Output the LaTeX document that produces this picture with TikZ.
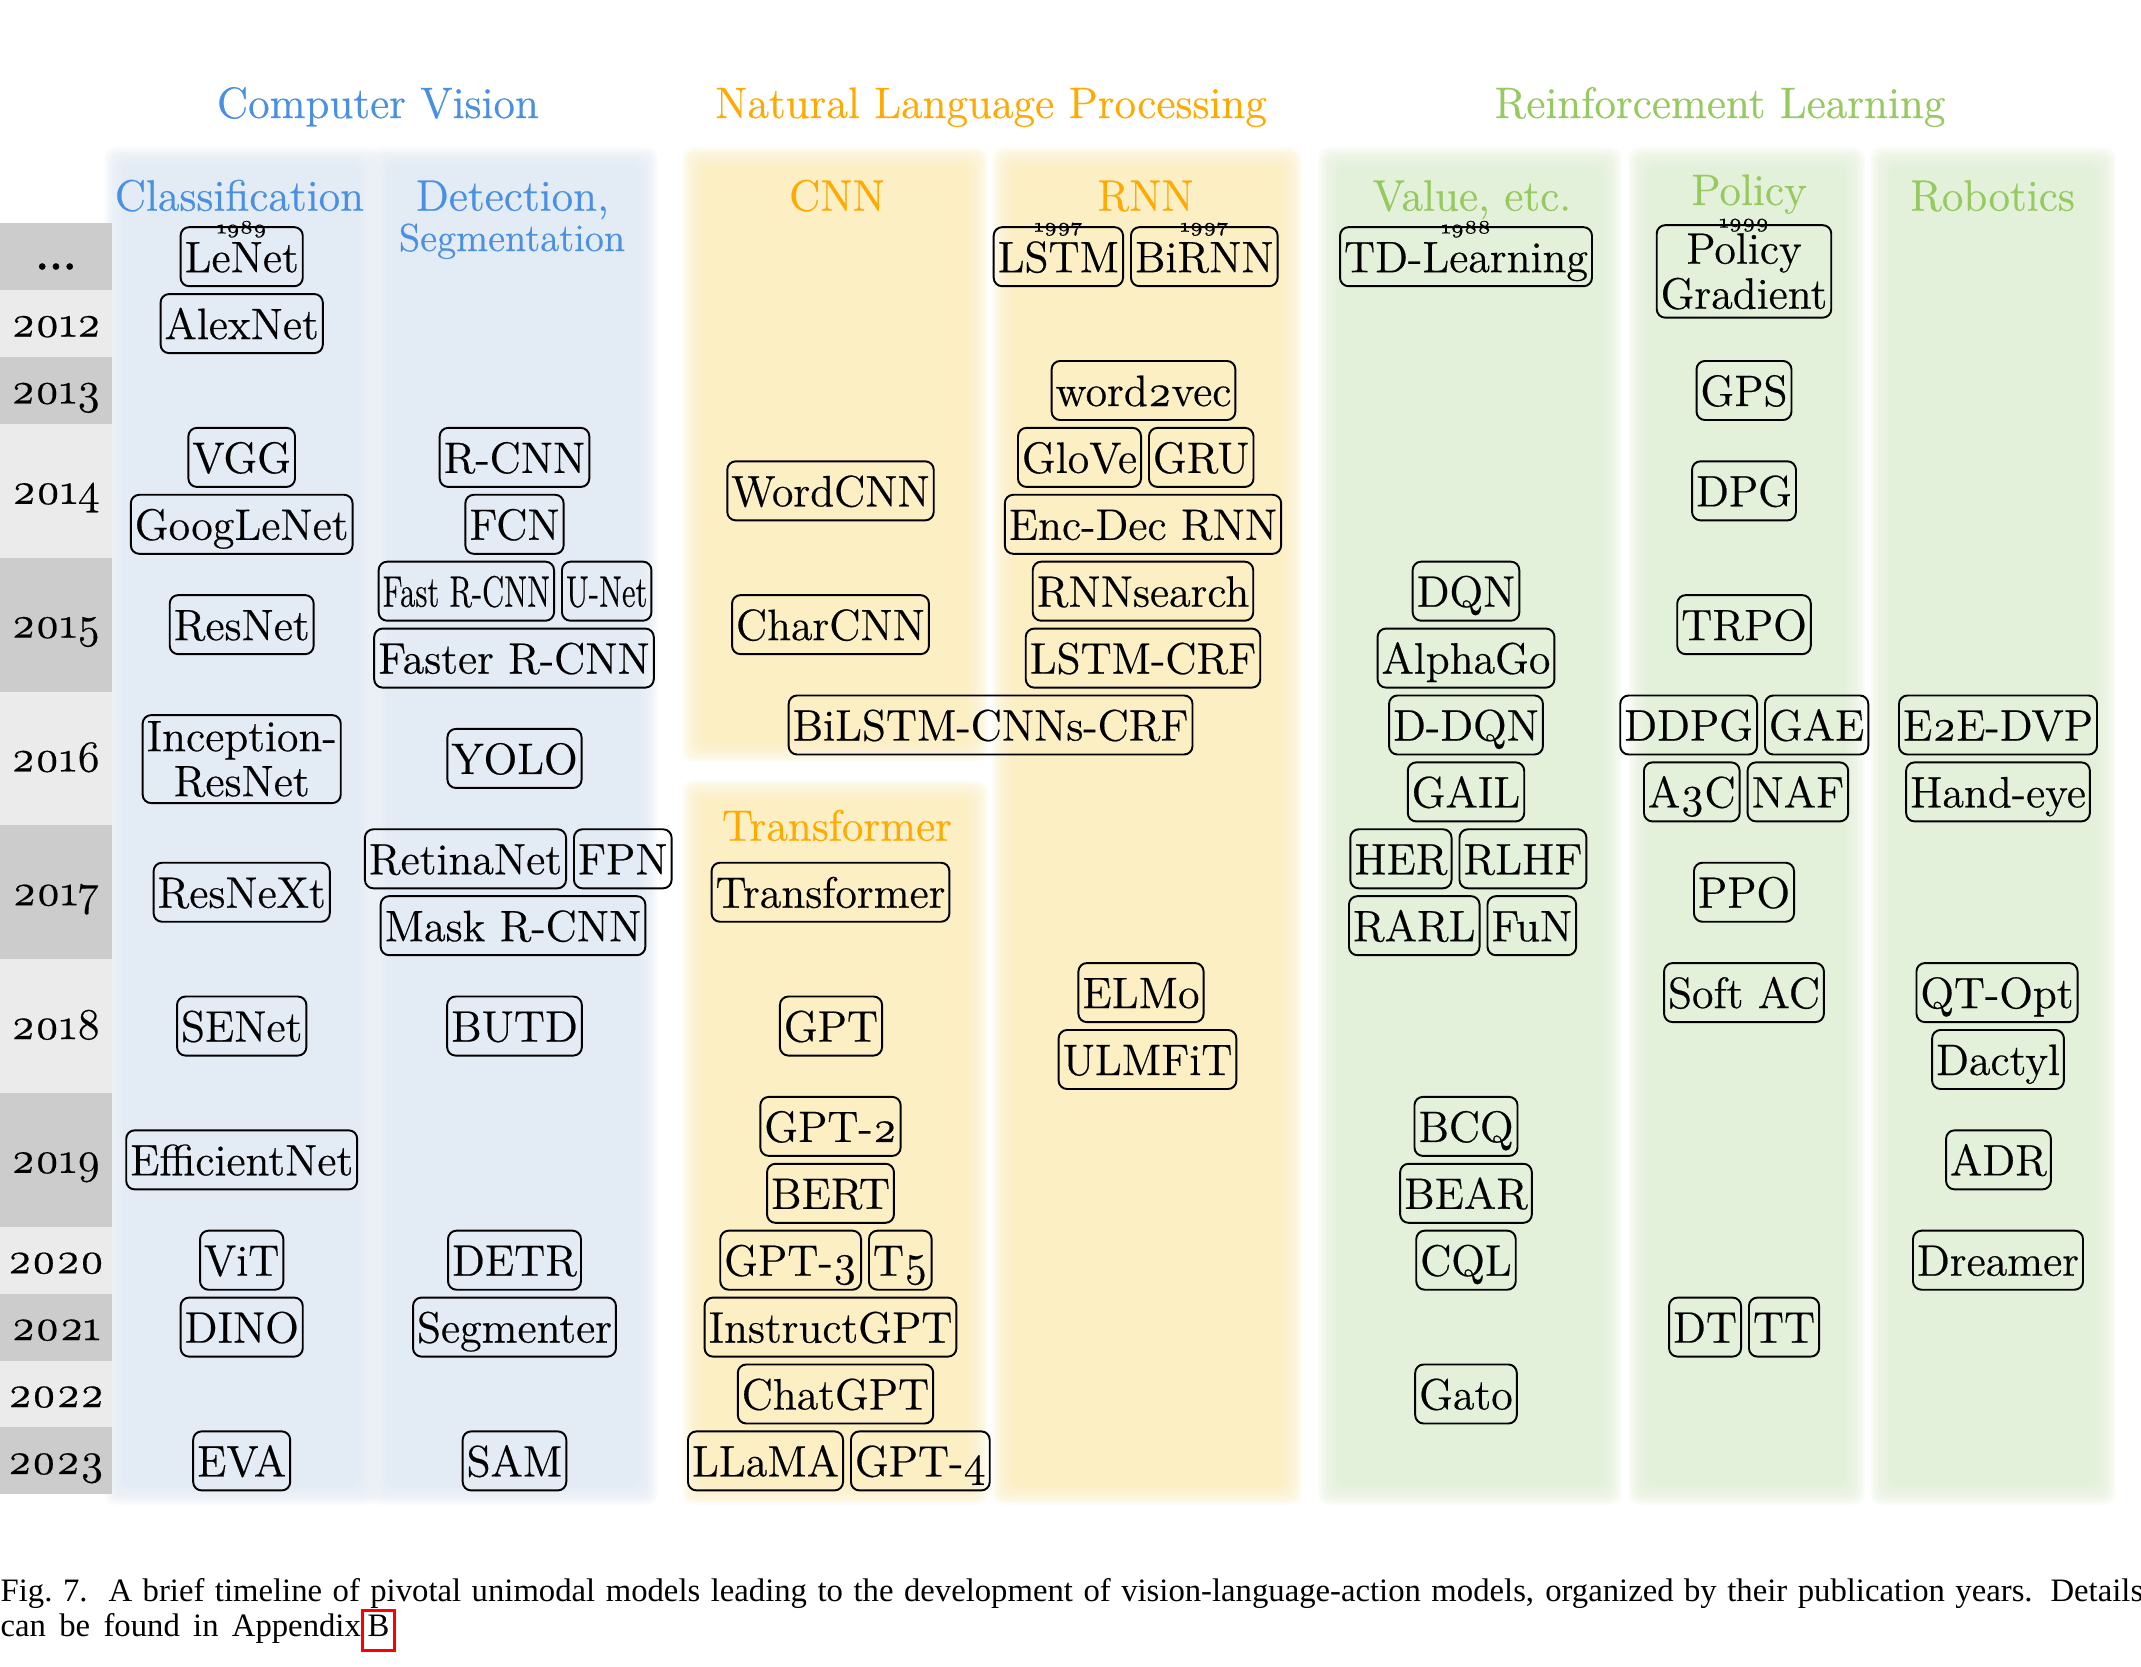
\documentclass[tikz,border=0pt]{standalone}
\usepackage{fontspec}
\usepackage{graphicx}
\newfontfamily\capfont{Liberation Serif}
\newfontfamily\mfont{Latin Modern Roman}[FakeBold=0.45]
\newfontfamily\ofont{Latin Modern Roman}[FakeBold=0.45, Numbers=OldStyle]
\newcommand\osn[1]{{\ofont #1}}
\newcommand\yslot[1]{256.7+66.9*(#1)}
\newcommand\msize{\mfont\fontsize{12.5pt}{15pt}\selectfont}
\definecolor{cvblue}{RGB}{74,144,226}
\definecolor{nlporange}{RGB}{255,170,0}
\definecolor{rlgreen}{RGB}{150,202,96}
\definecolor{bgblue}{RGB}{227,235,245}
\definecolor{bgyellow}{RGB}{252,239,195}
\definecolor{bggreen}{RGB}{228,241,218}
\definecolor{yrdark}{RGB}{204,204,204}
\definecolor{yrlight}{RGB}{235,235,235}
\newcommand\softcol[5]{%
  \foreach \k in {0,...,7}{%
    \fill[#1, fill opacity=0.22, rounded corners=3pt]
      ({#2-\k*2.5+8},{#3-\k*2.5+8}) rectangle ({#4+\k*2.5-8},{#5+\k*2.5-8});
  }%
  \fill[#1, rounded corners=2pt] ({#2+9},{#3+9}) rectangle ({#4-9},{#5-9});
}
\tikzset{
  mbox/.style={draw=black, line width=0.55pt, rounded corners=2.4pt, inner xsep=0.04cm, inner ysep=0.03cm,
    text height=0.42cm, text depth=0.11cm, font=\msize},
  mboxtwo/.style={draw=black, line width=0.55pt, rounded corners=2.4pt, inner xsep=0.04cm, inner ysep=0.06cm,
    align=center, font=\mfont\fontsize{12.5pt}{12.8pt}\selectfont},
  hdr/.style={anchor=base, inner sep=0, font=\msize},
  yrlab/.style={anchor=base, inner sep=0, font=\msize},
  datelab/.style={inner sep=0, font=\fontsize{5.4pt}{6pt}\selectfont},
  caption/.style={anchor=base west, inner sep=0, font=\capfont\fontsize{9.3pt}{10pt}\selectfont},
}
\begin{document}
\begin{tikzpicture}[x=0.01cm,y=-0.01cm]
\fill[white] (0,0) rectangle (2141,1667);
\useasboundingbox (0,0) rectangle (2141,1667);

% column backgrounds
\softcol{bgblue}{114}{157}{368}{1495}
\softcol{bgblue}{378}{157}{648}{1495}
\softcol{bgyellow}{692}{157}{978}{752}
\softcol{bgyellow}{692}{790}{978}{1495}
\softcol{bgyellow}{1002}{157}{1292}{1495}
\softcol{bggreen}{1328}{157}{1612}{1495}
\softcol{bggreen}{1638}{157}{1855}{1495}
\softcol{bggreen}{1880}{157}{2106}{1495}

% year column
\fill[yrdark] (0,{\yslot{0}-33.45}) rectangle (112,{\yslot{0}+33.45});
\node[yrlab] (yr0) at (56,{\yslot{0}+13}) {\textbf{...}};
\foreach \lab/\a/\b/\c [count=\i] in {{\osn{2012}}/1/1/yrlight, {\osn{2013}}/2/2/yrdark, {\osn{2014}}/3/4/yrlight,
  {\osn{2015}}/5/6/yrdark, {\osn{2016}}/7/8/yrlight, {\osn{2017}}/9/10/yrdark, {\osn{2018}}/11/12/yrlight,
  {\osn{2019}}/13/14/yrdark, {\osn{2020}}/15/15/yrlight, {\osn{2021}}/16/16/yrdark, {\osn{2022}}/17/17/yrlight,
  {\osn{2023}}/18/18/yrdark}{
  \fill[\c] (0,{\yslot{\a}-33.45}) rectangle (112,{\yslot{\b}+33.45});
  \node[yrlab] (yr\i) at (56,{(\yslot{\a}+\yslot{\b})/2+13}) {\lab};
}

% headers
\node[hdr, text=cvblue] (hcv) at (378,118) {Computer Vision};
\node[hdr, text=nlporange] (hnlp) at (991,118) {Natural Language Processing};
\node[hdr, text=rlgreen] (hrl) at (1720,118) {Reinforcement Learning};
\node[hdr, text=cvblue] (hcls) at (239.5,210.7) {Classification};
\node[hdr, text=cvblue] (hdet) at (512.5,210.7) {Detection,};
\node[hdr, text=cvblue, font=\mfont\fontsize{11.1pt}{13pt}\selectfont] (hseg) at (512,251) {Segmentation};
\node[hdr, text=nlporange] (hcnn) at (837,210.7) {CNN};
\node[hdr, text=nlporange] (hrnn) at (1145.6,210.7) {RNN};
\node[hdr, text=nlporange] (htrf) at (837,840.7) {Transformer};
\node[hdr, text=rlgreen] (hval) at (1472,210.7) {Value, etc.};
\node[hdr, text=rlgreen] (hpol) at (1749,205) {Policy};
\node[hdr, text=rlgreen] (hrob) at (1992.5,210.7) {Robotics};

% Classification
\node[mbox] (lenet) at (241.7,{\yslot{0}}) {LeNet};
\node[mbox] (alexnet) at (241.7,{\yslot{1}}) {AlexNet};
\node[mbox] (vgg) at (241.7,{\yslot{3}}) {VGG};
\node[mbox] (googlenet) at (241.7,{\yslot{4}}) {GoogLeNet};
\node[mbox] (resnet) at (241.7,{\yslot{5.5}}) {ResNet};
\node[mboxtwo] (incres) at (241.7,{\yslot{7.51}}) {Inception-\\ResNet};
\node[mbox] (resnext) at (241.7,{\yslot{9.5}}) {ResNeXt};
\node[mbox] (senet) at (241.7,{\yslot{11.5}}) {SENet};
\node[mbox] (effnet) at (241.7,{\yslot{13.5}}) {EfficientNet};
\node[mbox] (vit) at (241.7,{\yslot{15}}) {ViT};
\node[mbox] (dino) at (241.7,{\yslot{16}}) {DINO};
\node[mbox] (eva) at (241.7,{\yslot{18}}) {EVA};

% Detection
\node[mbox] (rcnn) at (514.5,{\yslot{3}}) {R-CNN};
\node[mbox] (fcn) at (514.5,{\yslot{4}}) {FCN};
\node[mbox, anchor=east] (fastrcnn) at (555,{\yslot{5}}) {\scalebox{0.71}[1]{Fast R-CNN}};
\node[mbox, anchor=west] (unet) at (561,{\yslot{5}}) {\scalebox{0.71}[1]{U-Net}};
\node[mbox] (fasterrcnn) at (514,{\yslot{6}}) {Faster R-CNN};
\node[mbox] (yolo) at (514.5,{\yslot{7.5}}) {YOLO};
\node[mbox, anchor=east] (retina) at (567,{\yslot{9}}) {RetinaNet};
\node[mbox, anchor=west] (fpn) at (573,{\yslot{9}}) {FPN};
\node[mbox] (maskrcnn) at (513,{\yslot{10}}) {Mask R-CNN};
\node[mbox] (butd) at (514.5,{\yslot{11.5}}) {BUTD};
\node[mbox] (detr) at (514.5,{\yslot{15}}) {DETR};
\node[mbox] (segmenter) at (514.5,{\yslot{16}}) {Segmenter};
\node[mbox] (sam) at (514.5,{\yslot{18}}) {SAM};

% CNN
\node[mbox] (wordcnn) at (830.5,{\yslot{3.5}}) {WordCNN};
\node[mbox] (charcnn) at (830.5,{\yslot{5.5}}) {CharCNN};
\node[mbox] (bilstm) at (990.6,{\yslot{7}}) {BiLSTM-CNNs-CRF};

% Transformer
\node[mbox] (transformer) at (830.5,{\yslot{9.5}}) {Transformer};
\node[mbox] (gpt) at (831,{\yslot{11.5}}) {GPT};
\node[mbox] (gpt2) at (830.5,{\yslot{13}}) {GPT-\osn{2}};
\node[mbox] (bert) at (830.5,{\yslot{14}}) {BERT};
\node[mbox, anchor=east] (gpt3) at (862,{\yslot{15}}) {GPT-\osn{3}};
\node[mbox, anchor=west] (t5) at (868,{\yslot{15}}) {T\osn{5}};
\node[mbox] (instructgpt) at (830.5,{\yslot{16}}) {InstructGPT};
\node[mbox] (chatgpt) at (835.5,{\yslot{17}}) {ChatGPT};
\node[mbox, anchor=east] (llama) at (844,{\yslot{18}}) {LLaMA};
\node[mbox, anchor=west] (gpt4) at (850,{\yslot{18}}) {GPT-\osn{4}};

% RNN
\node[mbox, anchor=east] (lstm) at (1124,{\yslot{0}}) {LSTM};
\node[mbox, anchor=west] (birnn) at (1130,{\yslot{0}}) {BiRNN};
\node[mbox] (word2vec) at (1143.5,{\yslot{2}}) {word\osn{2}vec};
\node[mbox, anchor=east] (glove) at (1142,{\yslot{3}}) {GloVe};
\node[mbox, anchor=west] (gru) at (1148,{\yslot{3}}) {GRU};
\node[mbox] (encdec) at (1143,{\yslot{4}}) {Enc-Dec RNN};
\node[mbox] (rnnsearch) at (1143,{\yslot{5}}) {RNNsearch};
\node[mbox] (lstmcrf) at (1143,{\yslot{6}}) {LSTM-CRF};
\node[mbox] (elmo) at (1141,{\yslot{11}}) {ELMo};
\node[mbox] (ulmfit) at (1147.5,{\yslot{12}}) {ULMFiT};

% Value, etc.
\node[mbox] (tdl) at (1466,{\yslot{0}}) {TD-Learning};
\node[mbox] (dqn) at (1466,{\yslot{5}}) {DQN};
\node[mbox] (alphago) at (1466,{\yslot{6}}) {AlphaGo};
\node[mbox] (ddqn) at (1466,{\yslot{7}}) {D-DQN};
\node[mbox] (gail) at (1466,{\yslot{8}}) {GAIL};
\node[mbox, anchor=east] (her) at (1452.5,{\yslot{9}}) {HER};
\node[mbox, anchor=west] (rlhf) at (1458.5,{\yslot{9}}) {RLHF};
\node[mbox, anchor=east] (rarl) at (1480.5,{\yslot{10}}) {RARL};
\node[mbox, anchor=west] (fun) at (1486.5,{\yslot{10}}) {FuN};
\node[mbox] (bcq) at (1466,{\yslot{13}}) {BCQ};
\node[mbox] (bear) at (1466,{\yslot{14}}) {BEAR};
\node[mbox] (cql) at (1466,{\yslot{15}}) {CQL};
\node[mbox] (gato) at (1466,{\yslot{17}}) {Gato};

% Policy
\node[mboxtwo, inner ysep=0.08cm] (pg) at (1744,{\yslot{0.22}}) {Policy\\Gradient};
\node[mbox] (gps) at (1744,{\yslot{2}}) {GPS};
\node[mbox] (dpg) at (1744,{\yslot{3.5}}) {DPG};
\node[mbox] (trpo) at (1744,{\yslot{5.5}}) {TRPO};
\node[mbox, anchor=east] (ddpg) at (1758,{\yslot{7}}) {DDPG};
\node[mbox, anchor=west] (gae) at (1764,{\yslot{7}}) {GAE};
\node[mbox, anchor=east] (a3c) at (1740.6,{\yslot{8}}) {A\osn{3}C};
\node[mbox, anchor=west] (naf) at (1746.6,{\yslot{8}}) {NAF};
\node[mbox] (ppo) at (1744,{\yslot{9.5}}) {PPO};
\node[mbox] (softac) at (1744,{\yslot{11}}) {Soft AC};
\node[mbox, anchor=east] (dt) at (1742,{\yslot{16}}) {DT};
\node[mbox, anchor=west] (tt) at (1748,{\yslot{16}}) {TT};

% Robotics
\node[mbox] (e2e) at (1998,{\yslot{7}}) {E\osn{2}E-DVP};
\node[mbox] (handeye) at (1998,{\yslot{8}}) {Hand-eye};
\node[mbox] (qtopt) at (1997,{\yslot{11}}) {QT-Opt};
\node[mbox] (dactyl) at (1998,{\yslot{12}}) {Dactyl};
\node[mbox] (adr) at (1998.5,{\yslot{13.5}}) {ADR};
\node[mbox] (dreamer) at (1998,{\yslot{15}}) {Dreamer};

% dates
\node[datelab] (lenetd) at ([yshift=-0.03cm]lenet.north) {\osn{1989}};
\node[datelab] (lstmd) at ([yshift=-0.03cm]lstm.north) {\osn{1997}};
\node[datelab] (birnnd) at ([yshift=-0.03cm]birnn.north) {\osn{1997}};
\node[datelab] (tdld) at ([yshift=-0.03cm]tdl.north) {\osn{1988}};
\node[datelab] (pgd) at ([yshift=-0.01cm]pg.north) {\osn{1999}};

% caption
\node[caption] (cap1) at (0,1601.7) {\makebox[21.41cm][s]{Fig.~7.\ \ A brief timeline of pivotal unimodal models leading to the development of vision-language-action models, organized by their publication years. Details}};
\node[caption] (cap2) at (0,1636.7) {\makebox[3.60cm][s]{can be found in Appendix}};
\node[anchor=base, draw=red, line width=1pt, inner xsep=0.05cm, inner ysep=0pt, text height=0.26cm, text depth=0.14cm,
  font=\capfont\fontsize{9.3pt}{10pt}\selectfont] (capb) at (378.5,1636.7) {B};
\end{tikzpicture}
\end{document}
